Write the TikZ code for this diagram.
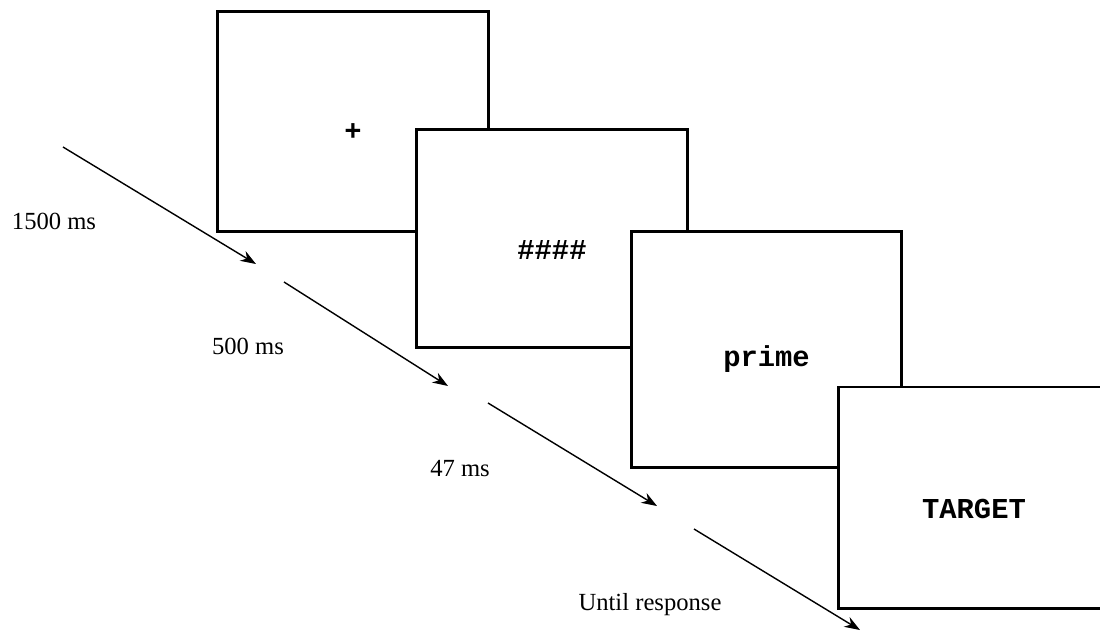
\documentclass[tikz,border=0pt]{standalone}
\usepackage{fontspec}
\setmainfont{Liberation Serif}
\newfontfamily\stimfont{Liberation Mono}
\usetikzlibrary{positioning,arrows.meta}

\begin{document}
\begin{tikzpicture}[
x=0.025cm, y=-0.025cm,
screen/.style = {shape=rectangle, draw, line width=2.1pt, fill=white, minimum width=6.75cm, inner sep=0pt},
stim/.style = {inner sep=1pt, font=\stimfont\bfseries\fontsize{20.5}{24}\selectfont},
timing/.style = {font=\fontsize{17.5}{20}\selectfont},
flow/.style = {line width=1pt, -{Stealth[length=11pt, width=8pt, inset=3.5pt]}},
]
  \useasboundingbox (0,0) rectangle (1100,632);
  % screens
  \node[screen, minimum height=5.475cm] (fix) at (353,121.5) {};
  \node[screen, minimum height=5.425cm] (mask) at (552,238.5) {};
  \node[screen, minimum height=5.875cm] (prime) at (766.5,349.5) {};
  \node[screen, minimum height=5.525cm] (target) at (974,497.5) {};
  \node[stim, below=0pt of fix.center] (fixtxt) {+};
  \node[stim, below=0pt of mask.center] (masktxt) {\#\#\#\#};
  \node[stim, below=-4pt of prime.center] (primetxt) {prime};
  \node[stim, below=0pt of target.center] (targettxt) {TARGET};
  % time line
  \coordinate (a1) at (63,147);   \coordinate (b1) at (256,264);
  \coordinate (a2) at (284,282);  \coordinate (b2) at (448,386);
  \coordinate (a3) at (488,403);  \coordinate (b3) at (657,506);
  \coordinate (a4) at (694,529);  \coordinate (b4) at (860,630);
  \draw[flow] (a1) -- (b1);
  \draw[flow] (a2) -- (b2);
  \draw[flow] (a3) -- (b3);
  \draw[flow] (a4) -- (b4);
  \node[timing] (t1) at (54,221) {1500 ms};
  \node[timing] (t2) at (248,346) {500 ms};
  \node[timing] (t3) at (460,469) {47 ms};
  \node[timing] (t4) at (650,605) {Until response};
\end{tikzpicture}
\end{document}
